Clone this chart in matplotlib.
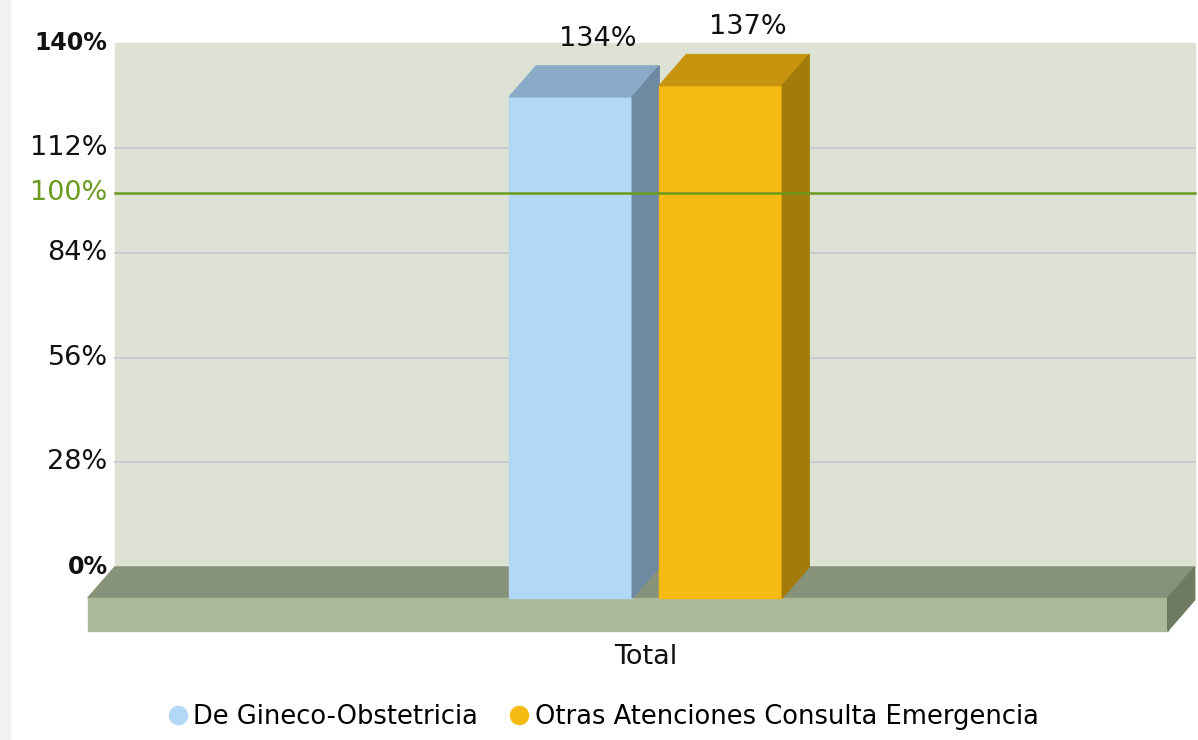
import matplotlib.pyplot as plt
from matplotlib.patches import Polygon, Rectangle
from matplotlib.lines import Line2D

# data
series = ['De Gineco-Obstetricia', 'Otras Atenciones Consulta Emergencia']
values = [134, 137]
category = 'Total'
ticks = [0, 28, 56, 84, 112, 140]
target = 100

front = ['#b1d8f6', '#f5bb13']
top = ['#89abc8', '#c7950d']
side = ['#6e8aa2', '#a27b0a']

# 3d look (depth offset in data units)
dx, dy = 0.18, 8.3
bw = 0.82
xpos = [-0.5, 0.5]
floor_l, floor_r = -3.72, 3.48
floor_h = 8.8
ymax = 140
fs = 19.5

fig = plt.figure(figsize=(11.98, 7.40), dpi=100)
ax = fig.add_axes([0, 0, 1, 1])
ax.set_xlim(-4.305, 3.682)
ax.set_ylim(-37.97, 159.9)
ax.axis('off')

# faint page border on the left
fig.patches.append(Rectangle((0, 0), 0.008, 1, transform=fig.transFigure,
                             color='#f1f1f1', zorder=0))

# back wall
wl, wr = floor_l + dx, floor_r + dx
ax.add_patch(Rectangle((wl, dy), wr - wl, ymax, color='#dde2d5', zorder=1))
for t in ticks[1:-1]:
    ax.plot([wl, wr], [t + dy, t + dy], color='#c8c9cf', lw=1.3, zorder=2)

# tick labels (first and last bold, a bit smaller)
for t in ticks:
    bold = t in (ticks[0], ticks[-1])
    ax.text(wl - 0.047, t + dy, f'{t}%', ha='right', va='center',
            fontsize=17 if bold else fs,
            fontweight='bold' if bold else 'normal', color='#111111', zorder=5)
ax.text(wl - 0.047, target + dy, f'{target}%', ha='right', va='center',
        fontsize=fs, color='#6b9a1e', zorder=5)

# floor
ax.add_patch(Polygon([(floor_l, 0), (floor_r, 0), (floor_r + dx, dy), (floor_l + dx, dy)],
                     closed=True, color='#87927a', zorder=3))
ax.add_patch(Rectangle((floor_l, -floor_h), floor_r - floor_l, floor_h,
                       color='#abb999', zorder=3))
ax.add_patch(Polygon([(floor_r, 0), (floor_r + dx, dy), (floor_r + dx, dy - floor_h),
                      (floor_r, -floor_h)], closed=True, color='#6e7a62', zorder=3))

# bars
for i, v in enumerate(values):
    x0 = xpos[i] - bw / 2
    x1 = xpos[i] + bw / 2
    ax.add_patch(Rectangle((x0, 0), bw, v, color=front[i], zorder=4))
    ax.add_patch(Polygon([(x0, v), (x1, v), (x1 + dx, v + dy), (x0 + dx, v + dy)],
                         closed=True, color=top[i], zorder=4))
    ax.add_patch(Polygon([(x1, 0), (x1 + dx, dy), (x1 + dx, v + dy), (x1, v)],
                         closed=True, color=side[i], zorder=4))
    ax.text(xpos[i] + dx, v + dy + 7.3, f'{v}%', ha='center', va='center',
            fontsize=fs, color='#111111', zorder=5)

# target line drawn over the bars
ax.plot([wl, wr], [target + dy, target + dy], color='#6b9a1e', lw=1.8, zorder=6)

ax.text(0, -15.8, category, ha='center', va='center', fontsize=fs, color='#111111')

handles = [Line2D([], [], marker='o', ls='', markersize=13, color=c) for c in front]
fig.legend(handles, series, loc='center', bbox_to_anchor=(602 / 1198, 1 - 717 / 740),
           ncol=2, frameon=False, fontsize=18.5, handletextpad=0.12,
           columnspacing=1.1, handlelength=1.0)

fig.savefig('out.png', dpi=100)
